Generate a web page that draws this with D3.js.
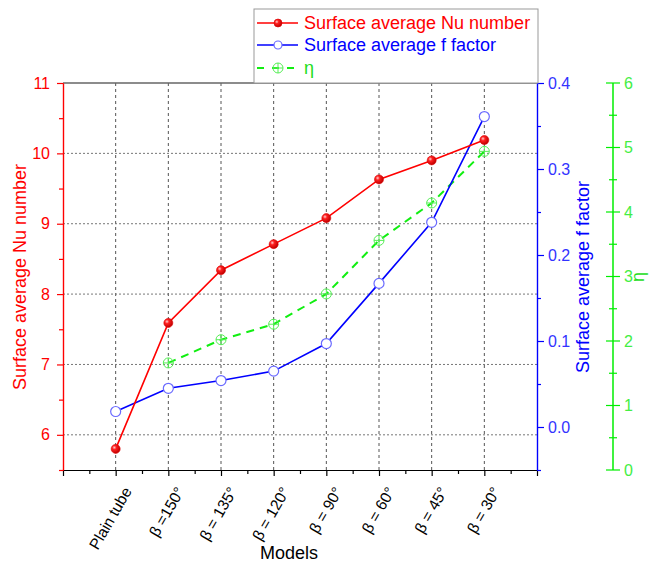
<!DOCTYPE html>
<html><head><meta charset="utf-8">
<script src="https://cdn.jsdelivr.net/npm/d3@7"></script>
<style>
body{margin:0;background:#fff;}
svg{font-family:"Liberation Sans",Arial,sans-serif;}
</style></head>
<body><svg id="c" width="649" height="564"></svg>
<script>
const categories = ["Plain tube","β =150°","β = 135°","β = 120°","β = 90°","β = 60°","β = 45°","β = 30°"];
const nuValues = [5.80, 7.59, 8.34, 8.71, 9.08, 9.63, 9.90, 10.19];
const fValues  = [0.018, 0.045, 0.054, 0.065, 0.097, 0.167, 0.238, 0.361];
const etaValues = [null, 1.66, 2.02, 2.26, 2.73, 3.56, 4.14, 4.94];
const nuTicks = [6,7,8,9,10,11];
const fTicks = [0.0,0.1,0.2,0.3,0.4];
const etaTicks = [0,1,2,3,4,5,6];

const L=63,R=537,T=83,B=470, GX=613;
const svg=d3.select("#c");
const x=d3.scaleLinear().domain([0,categories.length+1]).range([L,R]);
const yL=d3.scaleLinear().domain([5.5,11]).range([B,T]);
const yR=d3.scaleLinear().domain([-0.05,0.4]).range([B,T]);
const yG=d3.scaleLinear().domain([0,6]).range([B,T]);
const red="#ff0000", blue="#0000ff", green="#00ee00";

// defs
const defs=svg.append("defs");
const rg=defs.append("radialGradient").attr("id","rball").attr("cx","35%").attr("cy","35%").attr("r","65%");
rg.append("stop").attr("offset","0%").attr("stop-color","#ffd0d0");
rg.append("stop").attr("offset","35%").attr("stop-color","#ff2020");
rg.append("stop").attr("offset","100%").attr("stop-color","#c00000");

// grid
const g=svg.append("g");
g.selectAll("line.vg").data(categories).join("line")
 .attr("x1",(d,i)=>x(i+1)).attr("x2",(d,i)=>x(i+1)).attr("y1",T).attr("y2",B)
 .attr("stroke","#555").attr("stroke-width",1).attr("stroke-dasharray","3,3");
g.selectAll("line.hg").data(nuTicks.filter(v=>v<11)).join("line")
 .attr("x1",L).attr("x2",R).attr("y1",d=>yL(d)).attr("y2",d=>yL(d))
 .attr("stroke","#777").attr("stroke-width",1).attr("stroke-dasharray","2,2");

// top frame
svg.append("line").attr("x1",L).attr("x2",R).attr("y1",T).attr("y2",T).attr("stroke","#666").attr("stroke-width",1.5);

// bottom axis
const bx=svg.append("g").attr("transform",`translate(0,${B})`);
bx.call(d3.axisBottom(x).tickValues(d3.range(0,10)).tickSize(6).tickSizeOuter(0).tickFormat(""));
bx.append("g").call(d3.axisBottom(x).tickValues(d3.range(0.5,9,1)).tickSize(4).tickSizeOuter(0).tickFormat(""));
bx.selectAll("path,line").attr("stroke","#000").attr("stroke-width",1.2);
categories.forEach((c,i)=>{
  svg.append("text").attr("transform",`translate(${x(i+1)+13},${B+19}) rotate(-60)`)
   .attr("text-anchor","end").attr("dominant-baseline","middle").attr("font-size",15.5).attr("fill","#000").text(c);
});
svg.append("text").attr("x",289).attr("y",559).attr("text-anchor","middle").attr("font-size",18).attr("fill","#000").text("Models");

// left axis
const la=svg.append("g").attr("transform",`translate(${L},0)`);
la.call(d3.axisLeft(yL).tickValues(nuTicks).tickSize(6).tickSizeOuter(0).tickFormat(d3.format("d")));
la.append("g").call(d3.axisLeft(yL).tickValues(d3.range(5.5,11,1)).tickSize(4).tickSizeOuter(0).tickFormat(""));
la.selectAll("path,line").attr("stroke",red).attr("stroke-width",1.2);
la.selectAll("text").attr("fill",red).attr("font-size",16).attr("font-family","Liberation Sans, Arial").attr("x",-13);
svg.append("text").attr("transform",`translate(26,277) rotate(-90)`).attr("text-anchor","middle")
 .attr("font-size",18).attr("fill",red).text("Surface average Nu number");

// right axis
const ra=svg.append("g").attr("transform",`translate(${R},0)`);
ra.call(d3.axisRight(yR).tickValues(fTicks).tickSize(7).tickSizeOuter(0).tickFormat(d3.format(".1f")));
ra.append("g").call(d3.axisRight(yR).tickValues([-0.05,0.05,0.15,0.25,0.35]).tickSize(4).tickSizeOuter(0).tickFormat(""));
ra.selectAll("path,line").attr("stroke",blue).attr("stroke-width",1.2);
ra.selectAll("text").attr("fill","#3333ff").attr("font-size",16).attr("font-family","Liberation Sans, Arial").attr("x",11);
svg.append("text").attr("transform",`translate(589,277) rotate(-90)`).attr("text-anchor","middle")
 .attr("font-size",18).attr("fill",blue).text("Surface average f factor");

// green axis
const ga=svg.append("g").attr("transform",`translate(${GX},0)`);
ga.append("line").attr("x1",0).attr("x2",0).attr("y1",yG(0)).attr("y2",yG(6)).attr("stroke",green).attr("stroke-width",1.5);
ga.selectAll("line.mj").data(etaTicks).join("line").attr("x1",-7).attr("x2",7).attr("y1",d=>yG(d)).attr("y2",d=>yG(d)).attr("stroke",green).attr("stroke-width",1.2);
ga.selectAll("line.mn").data(d3.range(0.5,6,1)).join("line").attr("x1",-4).attr("x2",4).attr("y1",d=>yG(d)).attr("y2",d=>yG(d)).attr("stroke",green).attr("stroke-width",1.2);
ga.selectAll("text").data(etaTicks).join("text").attr("x",11).attr("y",d=>yG(d)).attr("dy","0.35em")
 .attr("font-size",16).attr("fill","#44ee44").text(d=>d);
svg.append("text").attr("transform",`translate(644,277) rotate(-90)`).attr("text-anchor","middle")
 .attr("font-size",18).attr("fill","#22dd22").text("η");

// lines
const lineNu=d3.line().x((d,i)=>x(i+1)).y(d=>yL(d));
const lineF=d3.line().x((d,i)=>x(i+1)).y(d=>yR(d));
const etaPts=etaValues.map((v,i)=>({i,v})).filter(d=>d.v!=null);
const lineEta=d3.line().x(d=>x(d.i+1)).y(d=>yG(d.v));

svg.append("path").attr("d",lineEta(etaPts)).attr("fill","none").attr("stroke","#11ee11").attr("stroke-width",2).attr("stroke-dasharray","8,6");
svg.append("path").attr("d",lineF(fValues)).attr("fill","none").attr("stroke",blue).attr("stroke-width",1.6);
svg.append("path").attr("d",lineNu(nuValues)).attr("fill","none").attr("stroke",red).attr("stroke-width",1.6);

function etaMarker(sel,cx,cy){
  sel.append("circle").attr("cx",cx).attr("cy",cy).attr("r",5).attr("fill","none").attr("stroke","#55ee55").attr("stroke-width",1);
  sel.append("line").attr("x1",cx-5).attr("x2",cx+5).attr("y1",cy).attr("y2",cy).attr("stroke","#55ee55").attr("stroke-width",1);
  sel.append("line").attr("x1",cx).attr("x2",cx).attr("y1",cy-5).attr("y2",cy+5).attr("stroke","#55ee55").attr("stroke-width",1);
}
etaPts.forEach(d=>etaMarker(svg.append("g"),x(d.i+1),yG(d.v)));
svg.selectAll("circle.f").data(fValues).join("circle").attr("cx",(d,i)=>x(i+1)).attr("cy",d=>yR(d)).attr("r",5)
 .attr("fill","#fff").attr("stroke","#6a6aff").attr("stroke-width",1.2);
svg.selectAll("circle.nu").data(nuValues).join("circle").attr("cx",(d,i)=>x(i+1)).attr("cy",d=>yL(d)).attr("r",4.5)
 .attr("fill","url(#rball)").attr("stroke","#dd0000").attr("stroke-width",0.6);

// legend
const lg=svg.append("g");
lg.append("rect").attr("x",254).attr("y",9).attr("width",284).attr("height",74).attr("fill","#fff").attr("stroke","#999").attr("stroke-width",1);
const rows=[
 {label:"Surface average Nu number",color:red,y:23,type:"nu"},
 {label:"Surface average f factor",color:blue,y:45,type:"f"},
 {label:"η",color:"#22dd22",y:68,type:"eta"}];
rows.forEach(r=>{
  if(r.type==="eta"){
    lg.append("line").attr("x1",257).attr("x2",298).attr("y1",r.y).attr("y2",r.y).attr("stroke","#11ee11").attr("stroke-width",2).attr("stroke-dasharray","7,8");
    etaMarker(lg,278,r.y);
  } else {
    lg.append("line").attr("x1",257).attr("x2",298).attr("y1",r.y).attr("y2",r.y).attr("stroke",r.color).attr("stroke-width",1.5);
    if(r.type==="nu") lg.append("circle").attr("cx",278).attr("cy",r.y).attr("r",4).attr("fill","url(#rball)").attr("stroke","#dd0000").attr("stroke-width",0.6);
    else lg.append("circle").attr("cx",278).attr("cy",r.y).attr("r",4).attr("fill","#fff").attr("stroke","#6a6aff").attr("stroke-width",1.2);
  }
  lg.append("text").attr("x",304).attr("y",r.y).attr("dy","0.35em").attr("font-size",18).attr("fill",r.color).text(r.label);
});
</script></body></html>
